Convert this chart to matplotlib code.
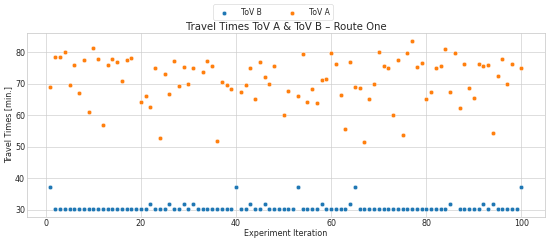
import numpy as np
import matplotlib
matplotlib.use('Agg')
import matplotlib.pyplot as plt
import seaborn as sns

nan = np.nan

# Iteraciones del experimento
iteraciones = list(range(1, 101))

# Tiempos ToV B (minutos)
tov_b = [37.3] + [30.4] * 20 + [
    31.8, 30.4, 30.4, 30.4, 31.8, 30.4, 30.4, 31.8, 30.4, 31.8,   # 22-31
    30.4, 30.4, 30.4, 30.4, 30.4, 30.4, 30.4, 30.4, 37.3,         # 32-40
    30.4, 30.4, 31.8, 30.4, 30.4, 31.8,                           # 41-46
    30.4, 30.4, 30.4, 30.4, 30.4, 30.4, 37.3,                     # 47-53
    30.4, 30.4, 30.4, 30.4, 31.8,                                 # 54-58
    30.4, 30.4, 30.4, 30.4, 30.4, 31.8, 37.3,                     # 59-65
] + [30.4] * 19 + [
    31.8, nan, 30.4, 30.4, 30.4, 30.4, 30.4, 31.8, 30.4, 31.8,    # 85-94
    30.4, 30.4, 30.4, 30.4, 30.4, 37.3,                           # 95-100
]

# Tiempos ToV A (minutos)
tov_a = [
    69.0, 78.6, 78.4, 80.2, 69.8, 76.1, 67.1, 77.6, 61.0, 81.3,
    78.0, 56.8, 76.1, 77.8, 76.9, 70.8, 77.6, 78.2, nan, 64.3,
    66.0, 62.5, 75.1, 52.8, 73.2, 66.9, 77.2, 69.2, 75.4, 69.9,
    75.2, nan, 73.8, 77.2, 75.7, 51.8, 70.7, 69.6, 68.3, nan,
    67.5, 69.5, 75.2, 65.3, 77.0, 72.2, 70.0, 75.6, nan, 60.1,
    67.8, nan, 66.2, 79.6, 64.3, 68.4, 64.0, 71.1, 71.5, 79.7,
    76.3, 66.5, 55.7, 77.0, 69.1, 68.6, 51.6, 65.1, 70.1, 80.2,
    75.7, 75.1, 60.1, 77.6, 53.8, 79.7, 83.6, 75.4, 76.5, 65.3,
    67.3, 75.1, 75.7, 81.0, 67.4, 79.9, 62.2, 76.4, 68.6, 65.4,
    76.2, 75.7, 75.9, 54.4, 72.6, 78.0, 70.0, 76.2, nan, 75.0,
]

sns.set_theme(style='whitegrid')
plt.rcParams['font.family'] = ['DejaVu Sans']

fig = plt.figure(figsize=(12, 5.26))
ax = fig.add_axes([0.049, 0.100, 0.942, 0.764])

ax.scatter(iteraciones, tov_b, s=52, color='#1f77b4', edgecolor='white',
           linewidth=0.75, label='ToV B')
ax.scatter(iteraciones, tov_a, s=52, color='#ff7f0e', edgecolor='white',
           linewidth=0.75, label='ToV A')

ax.set_title('Travel Times ToV A & ToV B – Route One', fontsize=16, pad=5)
ax.set_xlabel('Experiment Iteration', fontsize=12.5, labelpad=1)
ax.set_ylabel('Travel Times [min.]', fontsize=12.5, labelpad=3)
ax.set_xticks([0, 20, 40, 60, 80, 100])
ax.set_yticks([30, 40, 50, 60, 70, 80])
ax.tick_params(labelsize=12.5, length=0, pad=3)

fig.legend(loc='upper center', bbox_to_anchor=(0.496, 0.997), ncol=2,
           fontsize=12, columnspacing=3, handletextpad=1.2, frameon=True)

fig.savefig('out.png', dpi=550 / 12)
